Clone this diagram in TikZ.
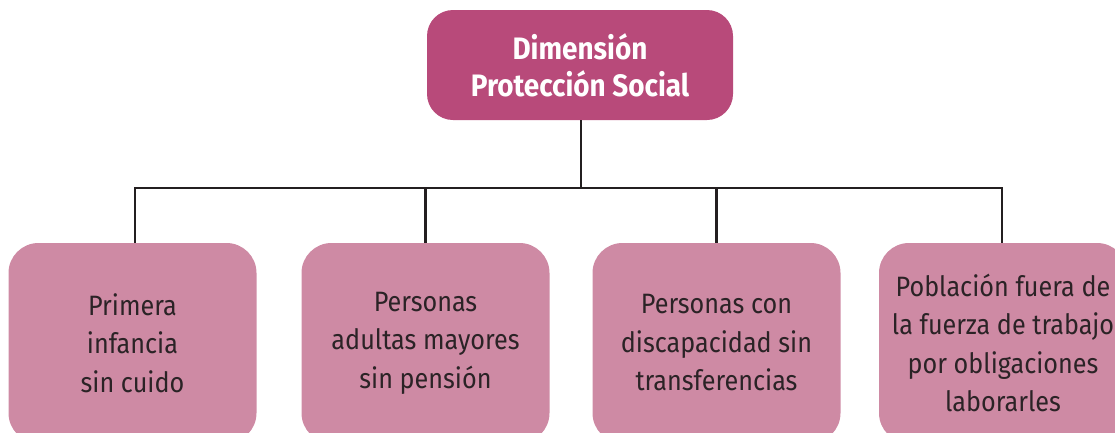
\documentclass[tikz,border=0pt]{standalone}
\usepackage{fontspec}
\setmainfont{Fira Sans}[FakeStretch=0.9]
\definecolor{rootc}{RGB}{184,74,122}
\definecolor{childc}{RGB}{206,138,164}
\definecolor{txt}{RGB}{43,35,38}
\definecolor{linec}{RGB}{35,31,32}
\begin{document}
\begin{tikzpicture}[x=1pt,y=-1pt,
  rootbox/.style={fill=rootc,rounded corners=26pt,minimum width=306pt,minimum height=110pt,
    text=white,font=\fontsize{31}{37}\selectfont\bfseries,align=center,inner sep=0pt},
  childbox/.style={fill=childc,rounded corners=30pt,minimum width=248pt,minimum height=200pt,
    text=txt,font=\fontsize{28}{38.5}\selectfont,align=center,inner sep=0pt},
  conn/.style={draw=linec,line width=2.6pt}]
\useasboundingbox (0,0) rectangle (1115,432);
\begin{scope}
\clip (0,0) rectangle (1115,432);
\node[rootbox] (root) at (580,65) {Dimensión\\Protección Social};
\node[childbox] (c1) at (132.5,343) {Primera\\infancia\\sin cuido};
\node[childbox] (c2) at (425.5,343) {Personas\\adultas mayores\\sin pensión};
\node[childbox] (c3) at (716.5,343) {Personas con\\discapacidad sin\\transferencias};
\node[childbox] (c4) at (1003,343) {Población fuera de\\la fuerza de trabajo\\por obligaciones\\laborarles};
\coordinate (bar) at (581,188);
\draw[conn] (root.south -| bar) -- (bar);
\draw[conn] (c1.north -| 135,0) -- (135,188) -- (1002,188) -- (c4.north -| 1002,0);
\draw[conn] (c2.north) -- (c2.north |- bar);
\draw[conn] (c3.north) -- (c3.north |- bar);
\end{scope}
\end{tikzpicture}
\end{document}
